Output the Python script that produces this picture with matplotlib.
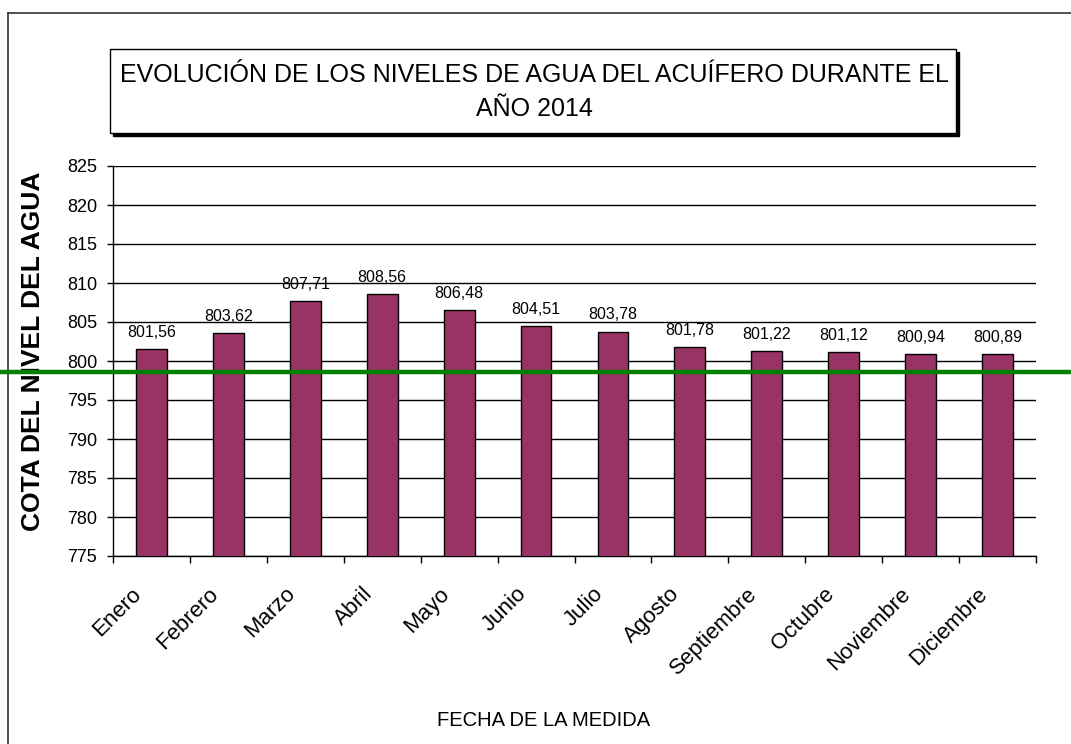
import matplotlib
matplotlib.use("Agg")
import matplotlib.pyplot as plt
import matplotlib.transforms as mtransforms
from matplotlib.lines import Line2D
from matplotlib.patches import Rectangle

plt.rcParams['font.family'] = ['Liberation Sans', 'DejaVu Sans']

# Datos
meses = ["Enero", "Febrero", "Marzo", "Abril", "Mayo", "Junio", "Julio",
         "Agosto", "Septiembre", "Octubre", "Noviembre", "Diciembre"]
cotas = [801.56, 803.62, 807.71, 808.56, 806.48, 804.51, 803.78,
         801.78, 801.22, 801.12, 800.94, 800.89]
nivel_referencia = 798.6
y_ticks = [775, 780, 785, 790, 795, 800, 805, 810, 815, 820, 825]

W, H = 1071, 744
fig = plt.figure(figsize=(W / 100, H / 100), dpi=100)
fig.patch.set_facecolor("white")

# marco exterior (solo se ven los bordes izquierdo y superior)
fig.add_artist(Line2D([8 / W, 8 / W], [0, 1 - 13 / H], transform=fig.transFigure,
                      color="#333333", lw=1.2))
fig.add_artist(Line2D([8 / W, 1], [1 - 13 / H, 1 - 13 / H], transform=fig.transFigure,
                      color="#333333", lw=1.2))

ax = fig.add_axes([113 / W, (H - 556) / H, (1036 - 113) / W, (556 - 166) / H])
x = list(range(len(meses)))
ax.bar(x, cotas, width=0.4, bottom=0, color="#993366", edgecolor="black",
       linewidth=1.0, zorder=3)
ax.set_xlim(-0.5, len(meses) - 0.5)
ax.set_ylim(y_ticks[0], y_ticks[-1])
ax.set_yticks(y_ticks)
ax.yaxis.grid(True, color="black", linewidth=1.0, zorder=0)
ax.set_axisbelow(True)
for s in ("top", "right"):
    ax.spines[s].set_visible(False)
for s in ("left", "bottom"):
    ax.spines[s].set_color("black")
    ax.spines[s].set_linewidth(1.0)

ax.tick_params(axis="y", length=4.5, width=1, pad=7, labelsize=13, colors="black")
ax.set_xticks([i - 0.5 for i in range(len(meses) + 1)])
ax.set_xticklabels([])
ax.tick_params(axis="x", which="major", length=5, width=1, direction="out")
ax.set_xticks(x, minor=True)
ax.set_xticklabels(meses, minor=True, rotation=45, ha="right", va="center",
                   rotation_mode="anchor", fontsize=16)
ax.tick_params(axis="x", which="minor", length=0, pad=25)
shift = mtransforms.ScaledTranslation(-13 / 100, 0, fig.dpi_scale_trans)
for lbl in ax.get_xticklabels(minor=True):
    lbl.set_transform(lbl.get_transform() + shift)

for xi, v in zip(x, cotas):
    ax.annotate(f"{v:.2f}".replace(".", ","), (xi, v), xytext=(0, 12),
                textcoords="offset points", ha="center", va="center",
                fontsize=11.5, zorder=5)

# linea verde de referencia a todo el ancho de la figura
trans = mtransforms.blended_transform_factory(fig.transFigure, ax.transData)
fig.add_artist(Line2D([0, 1], [nivel_referencia, nivel_referencia], transform=trans,
                      color="#008000", lw=3.2, zorder=10))

# titulo con caja y sombra
bx0, by0, bx1, by1 = 110 / W, 1 - 133 / H, 956 / W, 1 - 49 / H
fig.add_artist(Rectangle((bx0 + 3 / W, by0 - 3 / H), bx1 - bx0, by1 - by0,
                         transform=fig.transFigure, facecolor="black", edgecolor="black"))
fig.add_artist(Rectangle((bx0, by0), bx1 - bx0, by1 - by0, transform=fig.transFigure,
                         facecolor="white", edgecolor="black", lw=1.0))
fig.text(534 / W, 1 - 75 / H, "EVOLUCIÓN DE LOS NIVELES DE AGUA DEL ACUÍFERO DURANTE EL",
         ha="center", va="center", fontsize=18)
fig.text(534 / W, 1 - 109 / H, "AÑO 2014", ha="center", va="center", fontsize=18)

fig.text(33 / W, 1 - 351 / H, "COTA DEL NIVEL DEL AGUA", rotation=90,
         ha="center", va="center", fontsize=19, fontweight="bold")
fig.text(544 / W, 1 - 720 / H, "FECHA DE LA MEDIDA", ha="center", va="center",
         fontsize=14.5)

fig.savefig("out.png", dpi=100)
